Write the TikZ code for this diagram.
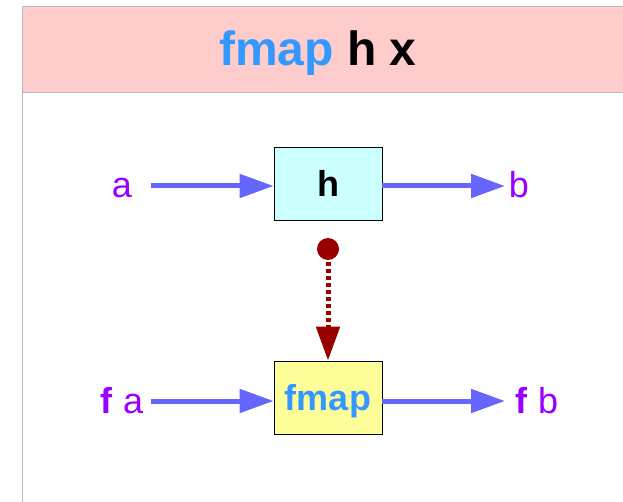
\documentclass[tikz,border=0pt]{standalone}
\usepackage{fontspec}
\setmainfont{Liberation Sans}
\usetikzlibrary{arrows.meta}
\definecolor{hdrfill}{HTML}{FFCCCC}
\definecolor{hdrline}{HTML}{BBBBBB}
\definecolor{cyanfill}{HTML}{CCFFFF}
\definecolor{yelfill}{HTML}{FFFF99}
\definecolor{fblue}{HTML}{3399FF}
\definecolor{arrblue}{HTML}{6666FF}
\definecolor{purp}{HTML}{9900FF}
\definecolor{dred}{HTML}{990000}
\tikzset{
  funbox/.style={draw=black, line width=0.8pt, minimum width=108pt, minimum height=73pt, inner sep=0pt, text depth=0pt},
  lbl/.style={text=purp, font=\fontsize{36}{40}\selectfont, inner sep=0pt, anchor=base},
  flow/.style={draw=arrblue, line width=5pt, -{Triangle[length=34pt,width=23pt]}},
  lift/.style={draw=dred, line width=5pt, dash pattern=on 4pt off 3pt, -{Triangle[length=34pt,width=23pt]}, shorten <=2pt},
}
\begin{document}
\begin{tikzpicture}[x=1pt,y=-1pt]
\useasboundingbox (0,0) rectangle (623,502);
\fill[white] (0,0) rectangle (623,502);
% header
\filldraw[fill=hdrfill, draw=hdrline, line width=1pt] (22,7) rectangle (660,93);
\draw[hdrline, line width=1pt] (22,93) -- (22,520);
\node[anchor=base, inner sep=0pt, font=\fontsize{48}{52}\selectfont\bfseries] (title) at (318,66) {\textcolor{fblue}{fmap} h x};
% boxes
\node[funbox, fill=cyanfill, font=\fontsize{36}{40}\selectfont\bfseries] (h) at (328,183.5) {h};
\node[funbox, fill=yelfill, text=fblue, font=\fontsize{36}{40}\selectfont\bfseries] (fmap) at (328,397.5) {fmap};
% labels
\node[lbl] (a) at (122,198) {a};
\node[lbl] (b) at (519,198) {b};
\node[lbl] (fa) at (122,413) {\textbf{f} a};
\node[lbl] (fb) at (537,413) {\textbf{f} b};
\coordinate (aend) at (151,186);
\coordinate (bend) at (505,186);
\coordinate (faend) at (151,401);
\coordinate (fbend) at (505,401);
% arrows
\draw[flow] (aend) -- (aend -| h.west);
\draw[flow] (h.east |- bend) -- (bend);
\draw[flow] (faend) -- (faend -| fmap.west);
\draw[flow] (fmap.east |- fbend) -- (fbend);
% lifting
\node[circle, fill=dred, minimum size=22pt, inner sep=0pt] (dot) at (328,249) {};
\draw[lift] (dot) -- (fmap.north);
\end{tikzpicture}
\end{document}
